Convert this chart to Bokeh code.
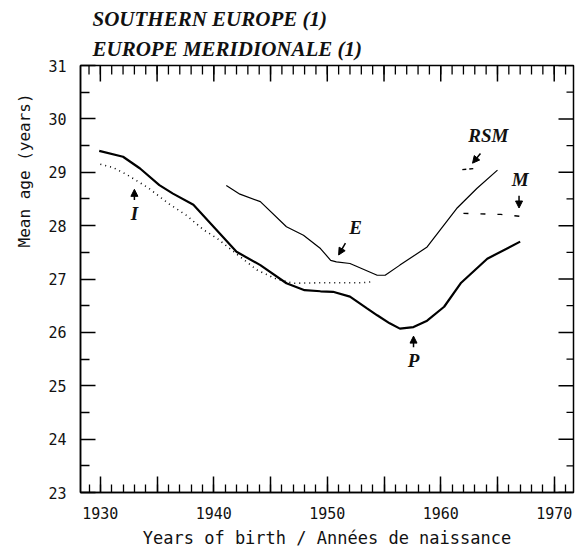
import math
from bokeh.plotting import figure
from bokeh.models import (Range1d, FixedTicker, Arrow, Title,
                          NormalHead, ColumnDataSource)
from bokeh.embed import file_html
from bokeh.resources import INLINE
from bokeh.core.properties import value

# ---------------- data ----------------
years_P = [1929.9, 1932.0, 1933.5, 1935.2, 1936.4, 1938.2, 1940.1, 1942.0, 1944.1,
           1946.4, 1948.0, 1949.4, 1950.5, 1952.0, 1953.5, 1954.4, 1955.5, 1956.4,
           1957.6, 1958.8, 1960.3, 1961.8, 1964.1, 1967.0]
ages_P = [29.40, 29.29, 29.07, 28.76, 28.60, 28.39, 27.95, 27.51, 27.26,
          26.92, 26.79, 26.77, 26.76, 26.67, 26.45, 26.32, 26.17, 26.07,
          26.10, 26.22, 26.48, 26.93, 27.38, 27.70]

years_I = [1930.0, 1931.1, 1932.3, 1934.2, 1936.1, 1937.6, 1939.1, 1940.3, 1942.0,
           1943.8, 1945.5, 1947.0, 1949.4, 1951.1, 1953.1, 1954.0]
ages_I = [29.15, 29.09, 28.96, 28.71, 28.40, 28.19, 27.92, 27.76, 27.47,
          27.17, 27.00, 26.92, 26.93, 26.93, 26.93, 26.95]

years_E = [1941.1, 1942.3, 1944.1, 1946.4, 1947.9, 1949.4, 1950.3, 1950.8, 1952.0,
           1954.4, 1955.1, 1956.4, 1958.8, 1961.4, 1963.2, 1965.0]
ages_E = [28.75, 28.59, 28.45, 27.98, 27.82, 27.57, 27.35, 27.32, 27.29,
          27.07, 27.07, 27.26, 27.60, 28.32, 28.70, 29.04]

years_M = [1962.0, 1963.5, 1965.3, 1967.2]
ages_M = [28.23, 28.22, 28.21, 28.17]

years_RSM = [1961.9, 1963.0]
ages_RSM = [29.05, 29.07]

series_names = ["I", "E", "RSM", "M", "P"]
name_x = [1933.0, 1952.5, 1964.2, 1967.0, 1957.6]
name_y = [28.22, 27.97, 29.68, 28.87, 25.48]
arrow_x0 = [1933.0, 1951.6, 1963.5, 1966.9, 1957.6]
arrow_y0 = [28.48, 27.67, 29.35, 28.56, 25.72]
arrow_x1 = [1933.0, 1951.0, 1962.8, 1966.9, 1957.6]
arrow_y1 = [28.68, 27.45, 29.17, 28.33, 25.93]

x_major_ticks = [1930, 1935, 1940, 1945, 1950, 1955, 1960, 1965, 1970]
x_minor_ticks = list(range(1929, 1972))
x_tick_labels = {1930: "1930", 1935: "", 1940: "1940", 1945: "", 1950: "1950",
                 1955: "", 1960: "1960", 1965: "", 1970: "1970"}
y_major_ticks = [23, 24, 25, 26, 27, 28, 29, 30, 31]
y_minor_ticks = [23.5, 24.5, 25.5, 26.5, 27.5, 28.5, 29.5, 30.5]

title_lines = ["SOUTHERN EUROPE (1)", "EUROPE MERIDIONALE (1)"]
x_axis_title = "Years of birth / Années de naissance"
y_axis_title = "Mean age (years)"

# ---------------- figure ----------------
x_lo, x_hi = 1928.25, 1971.7
y_lo, y_hi = 23, 31
p = figure(width=576, height=554,
           x_range=Range1d(x_lo, x_hi), y_range=Range1d(y_lo, y_hi),
           output_backend="svg", toolbar_location=None,
           min_border_left=80, min_border_right=3,
           min_border_top=65, min_border_bottom=62)
p.grid.grid_line_color = None
p.outline_line_color = "black"
p.outline_line_width = 1.5
p.background_fill_color = "white"
p.border_fill_color = "white"

mono = "DejaVu Sans Mono"


def style_axis(ax, major_in, minor_in):
    ax.major_tick_in = major_in
    ax.major_tick_out = 0
    ax.minor_tick_in = minor_in
    ax.minor_tick_out = 0
    ax.axis_line_width = 1.5
    ax.axis_line_color = "black"
    ax.major_tick_line_width = 1.5
    ax.minor_tick_line_width = 1.3
    ax.major_tick_line_color = "black"
    ax.minor_tick_line_color = "black"
    ax.major_label_text_font = mono
    ax.major_label_text_font_size = "15px"
    ax.major_label_text_color = "#111111"


bx = p.xaxis[0]
bx.ticker = FixedTicker(ticks=x_major_ticks, minor_ticks=x_minor_ticks)
bx.major_label_overrides = x_tick_labels
style_axis(bx, 16, 8)
bx.major_label_standoff = 14
bx.axis_label = x_axis_title
bx.axis_label_text_font = mono
bx.axis_label_text_font_size = "17px"
bx.axis_label_text_font_style = "normal"
bx.axis_label_text_color = "#111111"
bx.axis_label_standoff = 6

ly = p.yaxis[0]
ly.ticker = FixedTicker(ticks=y_major_ticks, minor_ticks=y_minor_ticks)
style_axis(ly, 15, 9)
ly.major_label_standoff = 14

# mirrored ticks on the top and right frame edges (centred dashes, half clipped)
p.scatter(x=x_major_ticks, y=[y_hi] * len(x_major_ticks), marker="dash",
          angle=math.pi / 2, size=32, line_color="black", line_width=1.5)
p.scatter(x=x_minor_ticks, y=[y_hi] * len(x_minor_ticks), marker="dash",
          angle=math.pi / 2, size=18, line_color="black", line_width=1.3)
p.scatter(x=[x_hi] * len(y_major_ticks), y=y_major_ticks, marker="dash",
          size=30, line_color="black", line_width=1.5)
p.scatter(x=[x_hi] * len(y_minor_ticks), y=y_minor_ticks, marker="dash",
          size=14, line_color="black", line_width=1.3)

# ---------------- series ----------------
p.line(years_P, ages_P, line_color="black", line_width=2.2)
p.line(years_I, ages_I, line_color="black", line_width=1.6, line_dash="1 4")
p.line(years_E, ages_E, line_color="black", line_width=1.2)
p.line(years_M, ages_M, line_color="black", line_width=1.3, line_dash="5 12")
p.line(years_RSM, ages_RSM, line_color="black", line_width=1.3, line_dash="4 3")

# ---------------- series names & arrows ----------------
p.text(x=name_x, y=name_y, text=series_names,
       text_font=value("Liberation Serif"), text_font_style="bold italic",
       text_font_size="19px", text_align="center", text_baseline="middle",
       text_color="#111111")

arrow_src = ColumnDataSource(dict(x0=arrow_x0, y0=arrow_y0, x1=arrow_x1, y1=arrow_y1))
p.add_layout(Arrow(end=NormalHead(size=7, fill_color="black", line_color="black"),
                   source=arrow_src, x_start="x0", y_start="y0",
                   x_end="x1", y_end="y1", line_width=1.5, line_color="black"))

# ---------------- titles ----------------
for txt, so in zip(reversed(title_lines), [9, 0]):
    p.add_layout(Title(text=txt, align="left", offset=12, standoff=so,
                       text_line_height=0.85,
                       text_font="Liberation Serif", text_font_style="bold italic",
                       text_font_size="21px", text_color="#111111"), "above")

p.add_layout(Title(text=y_axis_title, align="left", offset=245, standoff=23,
                   text_font=mono, text_font_style="normal",
                   text_font_size="16px", text_color="#111111"), "left")

open("out.html", "w").write(file_html(p, INLINE))
